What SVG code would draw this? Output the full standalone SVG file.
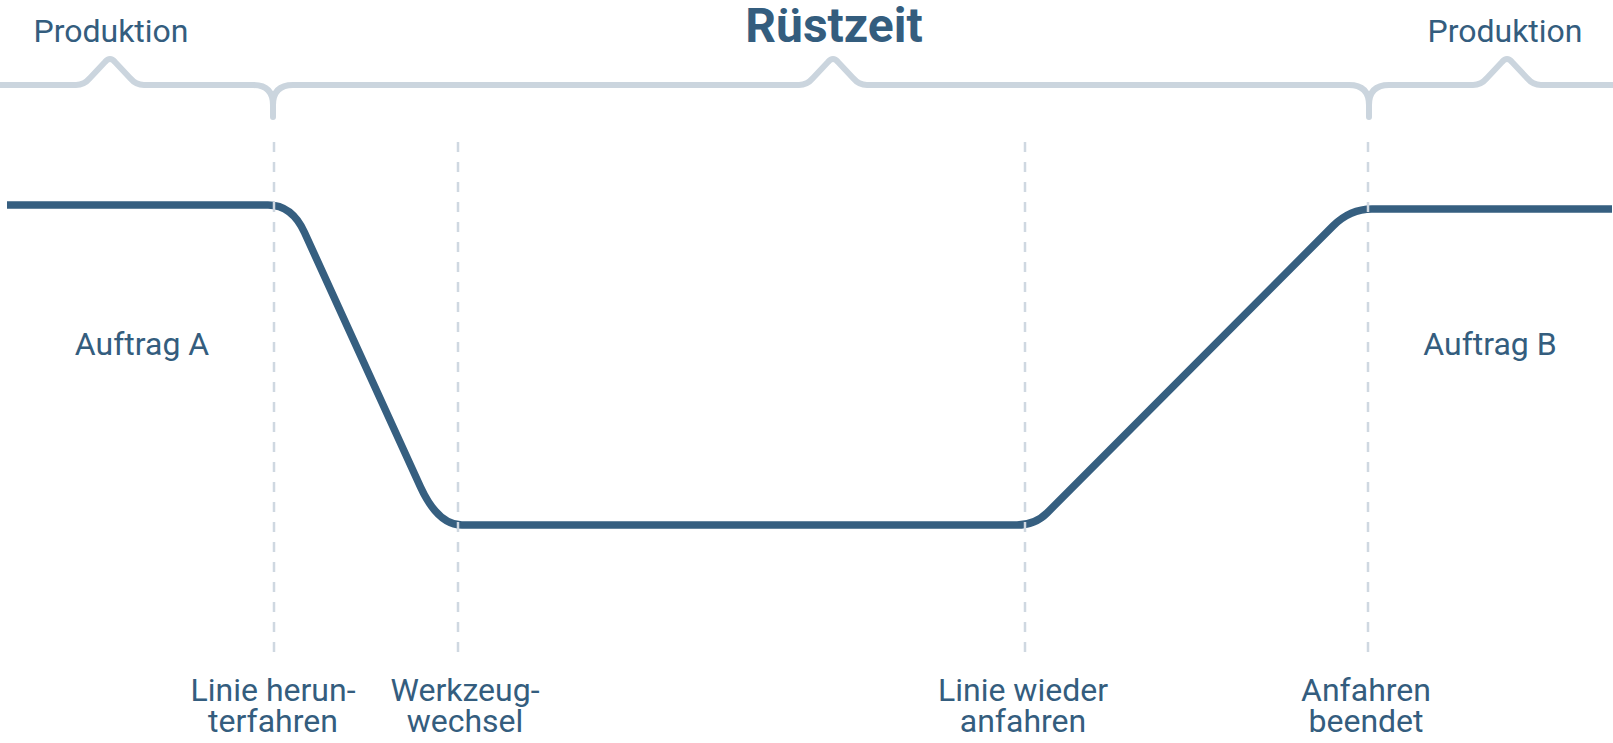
<svg xmlns="http://www.w3.org/2000/svg" width="1613" height="743" viewBox="0 0 1613 743">
<style>
.brace{fill:none;stroke:#cbd5de;stroke-width:6;stroke-linecap:round;stroke-linejoin:round}
.curve{fill:none;stroke:#365f80;stroke-width:7.5;stroke-linejoin:round}
.guide{stroke:#cfd8e1;stroke-width:2.5;stroke-dasharray:10 10}
text{font-family:Roboto,"Liberation Sans",sans-serif;fill:#345d7e;text-anchor:middle}
.lbl{font-size:32px}
.title{font-size:48px;font-weight:bold}
</style>
<g id="brace">
<path class="brace" d="M0 85 L76 85 Q84 85 90 78 L105 62 Q110 56 115 62 L130 78 Q136 85 144 85 L253 85 Q273 85 273 105 L273 117 M273 105 Q273 85 293 85 L799 85 Q807 85 813 78 L828 62 Q833 56 838 62 L853 78 Q859 85 867 85 L1349 85 Q1369 85 1369 105 L1369 117 M1369 105 Q1369 85 1389 85 L1473 85 Q1481 85 1487 78 L1502 62 Q1507 56 1512 62 L1527 78 Q1533 85 1541 85 L1613 85"/>
</g>
<g id="curve">
<path class="curve" d="M7 205 L268 205 Q292 205 304.5 232.5 L420.5 487 Q438 525 462 525 L1017 525 Q1035 525 1047 513 L1333 226 Q1350 209 1372 209 L1612 209"/>
</g>
<g id="connectors">
<line class="guide" x1="274" y1="142" x2="274" y2="653"/>
<line class="guide" x1="458" y1="142" x2="458" y2="653"/>
<line class="guide" x1="1025" y1="142" x2="1025" y2="653"/>
<line class="guide" x1="1368" y1="142" x2="1368" y2="653"/>
</g>
<g id="title"><text class="title" x="834" y="42">Rüstzeit</text></g>
<g id="produktion-left"><text class="lbl" x="111" y="42">Produktion</text></g>
<g id="produktion-right"><text class="lbl" x="1505" y="42">Produktion</text></g>
<g id="auftrag-a"><text class="lbl" x="142" y="355">Auftrag A</text></g>
<g id="auftrag-b"><text class="lbl" x="1490" y="355">Auftrag B</text></g>
<g id="step1"><text class="lbl" x="273" y="701">Linie herun-</text><text class="lbl" x="273" y="732">terfahren</text></g>
<g id="step2"><text class="lbl" x="465" y="701">Werkzeug-</text><text class="lbl" x="465" y="732">wechsel</text></g>
<g id="step3"><text class="lbl" x="1023" y="701">Linie wieder</text><text class="lbl" x="1023" y="732">anfahren</text></g>
<g id="step4"><text class="lbl" x="1366" y="701">Anfahren</text><text class="lbl" x="1366" y="732">beendet</text></g>
</svg>
